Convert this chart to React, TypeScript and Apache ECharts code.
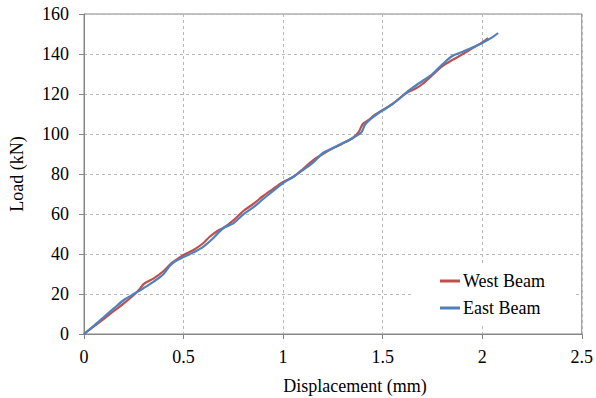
import React, { useEffect, useRef } from "react";
import * as echarts from "echarts";

const westX = [0, 0.05, 0.1, 0.15, 0.2, 0.25, 0.28, 0.3, 0.35, 0.4, 0.44, 0.47, 0.5, 0.55, 0.6, 0.63, 0.67, 0.7, 0.75, 0.8, 0.85, 0.9, 0.95, 1.0, 1.05, 1.1, 1.15, 1.2, 1.25, 1.3, 1.35, 1.38, 1.4, 1.43, 1.46, 1.5, 1.55, 1.58, 1.62, 1.67, 1.7, 1.75, 1.8, 1.85, 1.9, 1.95, 2.0, 2.03];
const westY = [0, 3.8, 7.6, 11.5, 15.3, 19.5, 22.5, 25, 27.8, 31.5, 35.5, 37.5, 39.5, 42, 45.5, 48.5, 51.5, 53, 56.8, 61.5, 65, 69, 72.5, 76, 78.5, 82.5, 86.8, 90, 92.8, 95.3, 98, 101, 105, 107, 109.5, 112, 115, 117.5, 120.5, 123, 125, 129.5, 134, 137, 139.8, 142.8, 145.8, 148];

const eastX = [0, 0.05, 0.1, 0.15, 0.2, 0.25, 0.3, 0.35, 0.4, 0.43, 0.46, 0.5, 0.55, 0.6, 0.65, 0.7, 0.75, 0.8, 0.85, 0.9, 0.95, 1.0, 1.05, 1.1, 1.15, 1.2, 1.25, 1.3, 1.35, 1.39, 1.4, 1.41, 1.44, 1.48, 1.52, 1.57, 1.62, 1.67, 1.7, 1.75, 1.8, 1.85, 1.9, 1.95, 2.0, 2.05, 2.08];
const eastY = [0, 4.2, 8.5, 12.8, 17, 20, 23, 26.2, 30, 34, 36.5, 38.5, 40.8, 43.7, 48, 53, 55.3, 59.8, 63.3, 67.5, 71.5, 75.5, 78.5, 82, 85.7, 90.5, 93, 95.5, 98, 100.5, 102, 104.5, 107.5, 110.5, 113, 116.5, 120.8, 124.5, 126.5, 130, 134.8, 139, 141, 143.2, 145.5, 148.3, 150.5];

const seriesNames = ["West Beam", "East Beam"];
const xTitle = "Displacement (mm)";
const yTitle = "Load (kN)";

const FONT = "Liberation Serif";

export default function App() {
  const ref = useRef<HTMLDivElement>(null);
  useEffect(() => {
    const chart = echarts.init(ref.current!, null, { renderer: "svg" });
    const west = westX.map((x, i) => [x, westY[i]]);
    const east = eastX.map((x, i) => [x, eastY[i]]);
    chart.setOption({
      animation: false,
      backgroundColor: "#ffffff",
      textStyle: { fontFamily: FONT },
      grid: {
        left: 84,
        right: 11,
        top: 14,
        bottom: 64,
        show: true,
        borderColor: "#868686",
        borderWidth: 1,
        backgroundColor: "transparent",
      },
      xAxis: {
        type: "value",
        min: 0,
        max: 2.5,
        interval: 0.5,
        axisLine: { show: true, onZero: false, lineStyle: { color: "#868686", width: 1 } },
        axisTick: { show: true, length: 5, lineStyle: { color: "#868686" } },
        axisLabel: { color: "#000", fontFamily: FONT, fontSize: 18, margin: 14 },
        splitLine: { show: true, lineStyle: { color: "#b8b8b8", type: [3, 3], width: 1 } },
      },
      yAxis: {
        type: "value",
        min: 0,
        max: 160,
        interval: 20,
        axisLine: { show: true, lineStyle: { color: "#868686", width: 1 } },
        axisTick: { show: true, length: 5, lineStyle: { color: "#868686" } },
        axisLabel: { color: "#000", fontFamily: FONT, fontSize: 18, margin: 15 },
        splitLine: { show: true, lineStyle: { color: "#b8b8b8", type: [3, 3], width: 1 } },
      },
      legend: {
        orient: "vertical",
        left: 412,
        top: 264,
        padding: [8, 28, 8, 28],
        backgroundColor: "#ffffff",
        itemWidth: 20,
        itemHeight: 3,
        itemGap: 9,
        icon: "rect",
        textStyle: { color: "#000", fontFamily: FONT, fontSize: 18, padding: [0, 0, 0, -2] },
        data: seriesNames,
      },
      graphic: [
        {
          type: "text",
          x: 355,
          y: 386,
          style: { text: xTitle, fontFamily: FONT, fontSize: 18, fill: "#000", align: "center", verticalAlign: "middle" },
        },
        {
          type: "text",
          x: 17,
          y: 174,
          rotation: Math.PI / 2,
          style: { text: yTitle, fontFamily: FONT, fontSize: 18, fill: "#000", align: "center", verticalAlign: "middle" },
        },
      ],
      series: [
        {
          name: seriesNames[0],
          type: "line",
          data: west,
          showSymbol: false,
          smooth: 0.3,
          lineStyle: { color: "#C0504D", width: 2.2 },
          itemStyle: { color: "#C0504D" },
          z: 2,
        },
        {
          name: seriesNames[1],
          type: "line",
          data: east,
          showSymbol: false,
          smooth: 0.3,
          lineStyle: { color: "#4F81BD", width: 2.2 },
          itemStyle: { color: "#4F81BD" },
          z: 3,
        },
      ],
    });
    return () => chart.dispose();
  }, []);
  return <div ref={ref} style={{ width: 596, height: 398, position: "absolute", left: 0, top: 0 }} />;
}
